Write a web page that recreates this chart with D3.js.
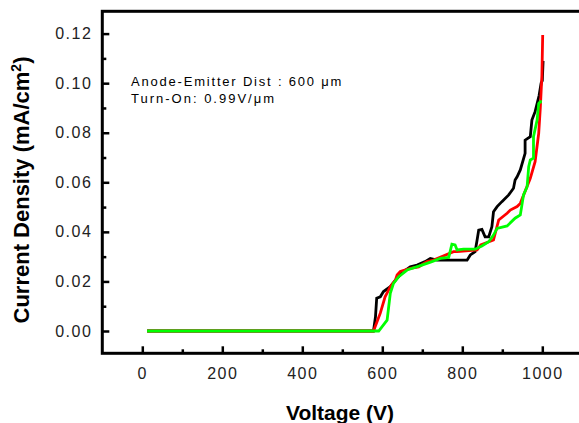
<!DOCTYPE html>
<html>
<head>
<meta charset="utf-8">
<script src="https://cdn.jsdelivr.net/npm/d3@7"></script>
<style>
  body { margin: 0; background: white; }
  text { font-family: "Liberation Sans", Arial, sans-serif; }
</style>
</head>
<body>
<div id="viz-container"></div>
<script>
let w = 579;
let h = 423;

// tick values
let xTicks = [0, 200, 400, 600, 800, 1000];
let xMinor = [100, 300, 500, 700, 900];
let yTicks = [0, 0.02, 0.04, 0.06, 0.08, 0.10, 0.12];
let yMinor = [0.01, 0.03, 0.05, 0.07, 0.09, 0.11];

// black curve
let blackV = [12, 578, 583, 586, 595, 603, 620, 637, 653, 670, 687, 707, 720, 737, 770, 812, 820, 832, 837, 841, 849, 857, 866, 874, 878, 887, 899, 916, 928, 932, 937, 945, 957, 957, 970, 974, 982, 992, 997, 1000, 1002];
let blackJ = [0, 0, 0.0058, 0.0132, 0.0138, 0.0159, 0.0179, 0.0213, 0.024, 0.0259, 0.0266, 0.028, 0.0293, 0.0286, 0.0286, 0.0286, 0.0307, 0.032, 0.0367, 0.0407, 0.041, 0.038, 0.038, 0.0421, 0.0481, 0.0502, 0.0522, 0.0549, 0.0576, 0.0609, 0.0622, 0.065, 0.0717, 0.077, 0.0784, 0.0851, 0.0885, 0.095, 0.1, 0.101, 0.109];

// red curve
let redV = [12, 578, 595, 607, 620, 633, 637, 645, 670, 691, 712, 728, 778, 787, 837, 846, 878, 891, 912, 920, 937, 945, 970, 982, 991, 995, 999, 1001];
let redJ = [0, 0, 0.0072, 0.0138, 0.0179, 0.0206, 0.0226, 0.024, 0.0253, 0.0259, 0.028, 0.0286, 0.032, 0.032, 0.0327, 0.0347, 0.0367, 0.0448, 0.0475, 0.0488, 0.0502, 0.0515, 0.0616, 0.0683, 0.0797, 0.09, 0.103, 0.1194];

// green curve
let greenV = [12, 591, 612, 616, 620, 628, 641, 662, 699, 724, 745, 766, 774, 782, 787, 803, 832, 849, 866, 878, 887, 912, 932, 945, 949, 953, 962, 966, 970, 978, 978, 987, 991, 995, 999];
let greenJ = [0, 0, 0.0044, 0.0098, 0.0152, 0.0192, 0.0219, 0.0246, 0.0266, 0.028, 0.0293, 0.0297, 0.035, 0.0347, 0.0327, 0.033, 0.033, 0.0343, 0.036, 0.0387, 0.0414, 0.0424, 0.0455, 0.0468, 0.0508, 0.0549, 0.0582, 0.0663, 0.069, 0.0697, 0.0784, 0.0851, 0.0918, 0.0925, 0.0925];

let viz = d3.select("#viz-container")
  .append("svg")
    .attr("width", w)
    .attr("height", h)
    .style("background-color", "white");

let x = d3.scaleLinear().domain([-100, 1100]).range([102.3, 582.3]);
let y = d3.scaleLinear().domain([-0.009, 0.129]).range([353.3, 11.3]);

// minor ticks first
viz.append("g")
  .attr("transform", "translate(0," + y.range()[0] + ")")
  .call(d3.axisBottom(x).tickValues(xMinor).tickSize(-4).tickFormat(""))
  .call(g => g.select(".domain").remove())
  .selectAll("line").attr("stroke", "black").attr("stroke-width", 2.5);

viz.append("g")
  .attr("transform", "translate(" + x.range()[0] + ",0)")
  .call(d3.axisLeft(y).tickValues(yMinor).tickSize(-4).tickFormat(""))
  .call(g => g.select(".domain").remove())
  .selectAll("line").attr("stroke", "black").attr("stroke-width", 2.5);

// major ticks with labels
let xAxis = viz.append("g")
  .attr("transform", "translate(0," + y.range()[0] + ")")
  .call(d3.axisBottom(x).tickValues(xTicks).tickSize(-7).tickPadding(14).tickFormat(d3.format("d")));
xAxis.select(".domain").remove();
xAxis.selectAll("line").attr("stroke", "black").attr("stroke-width", 2.5);
xAxis.selectAll("text")
  .attr("fill", "#222")
  .style("font-size", "16px")
  .style("letter-spacing", "1.5px");

let yAxis = viz.append("g")
  .attr("transform", "translate(" + x.range()[0] + ",0)")
  .call(d3.axisLeft(y).tickValues(yTicks).tickSize(-7).tickPadding(10).tickFormat(d3.format(".2f")));
yAxis.select(".domain").remove();
yAxis.selectAll("line").attr("stroke", "black").attr("stroke-width", 2.5);
yAxis.selectAll("text")
  .attr("fill", "#222")
  .style("font-size", "16px")
  .style("letter-spacing", "1.5px");

// frame
viz.append("rect")
  .attr("x", x.range()[0])
  .attr("y", y.range()[1])
  .attr("width", x.range()[1] - x.range()[0])
  .attr("height", y.range()[0] - y.range()[1])
  .attr("fill", "none")
  .attr("stroke", "black")
  .attr("stroke-width", 3);

// curves
function makeLine(vs, js){
  let pts = vs.map((v, i) => [v, js[i]]);
  return d3.line().x(d => x(d[0])).y(d => y(d[1]))(pts);
}

let curves = [
  {v: blackV, j: blackJ, color: "#000000"},
  {v: redV, j: redJ, color: "#ff0000"},
  {v: greenV, j: greenJ, color: "#00ff00"}
];

viz.selectAll(".curve").data(curves).enter()
  .append("path")
    .attr("class", "curve")
    .attr("d", d => makeLine(d.v, d.j))
    .attr("fill", "none")
    .attr("stroke", d => d.color)
    .attr("stroke-width", 2.8)
    .attr("stroke-linejoin", "miter");

// annotation
viz.append("text")
  .attr("x", 131)
  .attr("y", 86)
  .style("font-size", "13px")
  .style("letter-spacing", "1.8px")
  .attr("fill", "black")
  .text("Anode-Emitter Dist : 600 μm");

viz.append("text")
  .attr("x", 131)
  .attr("y", 103)
  .style("font-size", "13px")
  .style("letter-spacing", "2px")
  .attr("fill", "black")
  .text("Turn-On: 0.99V/μm");

// axis titles
viz.append("text")
  .attr("x", 340)
  .attr("y", 420)
  .attr("text-anchor", "middle")
  .style("font-size", "21px")
  .style("font-weight", "bold")
  .text("Voltage (V)");

let yTitle = viz.append("text")
  .attr("transform", "translate(29,190) rotate(-90)")
  .attr("text-anchor", "middle")
  .style("font-size", "22px")
  .style("font-weight", "bold");
yTitle.append("tspan").text("Current Density (mA/cm");
yTitle.append("tspan").attr("dy", -8).style("font-size", "14px").text("2");
yTitle.append("tspan").attr("dy", 8).text(")");
</script>
</body>
</html>
